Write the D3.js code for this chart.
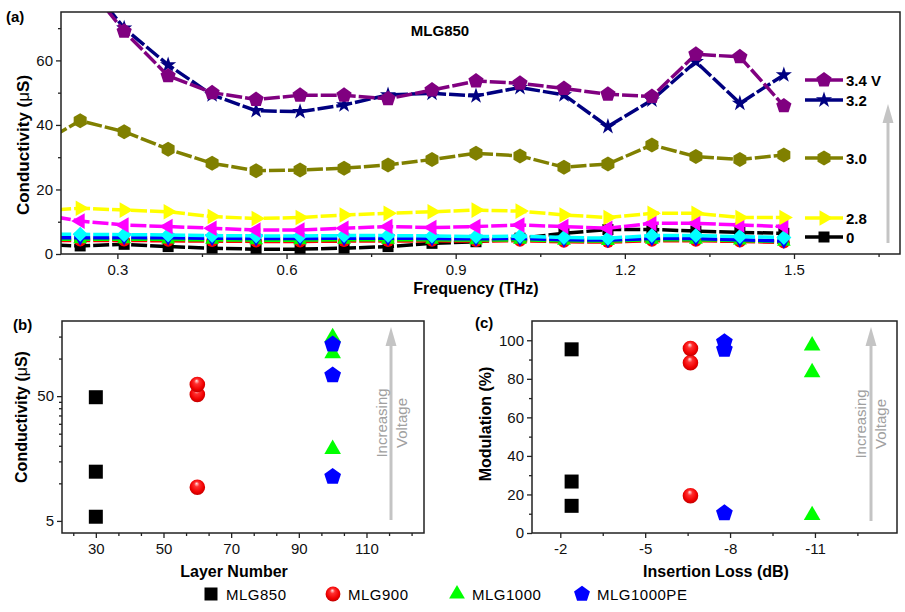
<!DOCTYPE html>
<html>
<head>
<meta charset="utf-8">
<script src="https://cdn.jsdelivr.net/npm/d3@7"></script>
<style>
body { margin: 0; background: #fff; }
svg { font-family: Arial, "Liberation Sans", sans-serif; }
</style>
</head>
<body>
<svg id="fig" width="905" height="612"></svg>
<script>
// ---- panel (a): conductivity vs frequency, MLG850, one series per gate voltage
var freq = [0.156, 0.234, 0.312, 0.39, 0.468, 0.546, 0.624, 0.702, 0.78, 0.858, 0.936, 1.014, 1.092, 1.17, 1.248, 1.326, 1.404, 1.482];
var sig0   = [2.9, 2.5, 3.0, 2.3, 1.8, 1.5, 1.5, 1.8, 2.3, 3.3, 3.8, 4.9, 6.4, 7.6, 7.6, 7.1, 6.7, 6.4];
var sigRed = [4.2, 4.2, 4.2, 4.1, 4.0, 3.9, 3.9, 4.0, 4.0, 4.1, 4.0, 4.1, 3.8, 3.7, 4.1, 4.1, 3.9, 3.6];
var sigGrn = [4.6, 4.6, 4.6, 4.5, 4.4, 4.3, 4.3, 4.4, 4.4, 4.4, 4.3, 4.4, 4.1, 4.0, 4.4, 4.4, 4.2, 3.8];
var sigBlu = [5.0, 5.0, 5.1, 5.0, 4.9, 4.8, 4.8, 4.9, 4.9, 4.8, 4.7, 4.8, 4.4, 4.3, 4.8, 4.8, 4.4, 4.0];
var sigCyn = [6.2, 6.1, 6.0, 5.9, 5.7, 5.6, 5.6, 5.7, 5.7, 5.6, 5.4, 5.5, 5.1, 4.9, 5.7, 5.7, 5.4, 5.1];
var sigMag = [12.5, 10.2, 9.0, 8.5, 8.0, 7.4, 7.4, 8.0, 8.5, 8.2, 8.5, 9.0, 8.5, 8.0, 9.5, 9.5, 9.0, 8.5];
var sig28  = [13.2, 14.2, 13.6, 13.1, 11.6, 11.0, 11.3, 12.1, 12.6, 13.1, 13.6, 13.3, 12.1, 11.3, 12.6, 12.6, 11.3, 11.3];
var sig30  = [33.5, 41.3, 37.9, 32.5, 28.1, 25.8, 26.0, 26.6, 27.6, 29.3, 31.2, 30.4, 26.9, 27.9, 33.8, 30.2, 29.3, 30.7];
var sig32  = [96, 87, 70, 58.6, 49.3, 44.4, 44.1, 46.2, 49.3, 49.8, 49.0, 51.6, 49.3, 39.5, 47.7, 59.6, 46.7, 55.5];
var sig34  = [95, 86, 69, 55.2, 50, 47.9, 49.2, 49.2, 48.1, 50.8, 53.6, 52.9, 51.3, 49.5, 48.8, 61.9, 61.1, 45.9];
var voltLabels = ['3.4 V', '3.2', '3.0', '2.8', '0'];
var freqTicks = [0.3, 0.6, 0.9, 1.2, 1.5];
var freqMinor = [0.45, 0.75, 1.05, 1.35, 1.65];
var sigTicks = [0, 20, 40, 60];
var sigMinor = [10, 30, 50, 70];

// ---- panels (b) and (c): samples
var samples = ['MLG850', 'MLG900', 'MLG1000', 'MLG1000PE'];
var layerNum = [30, 60, 100, 100];
var condMLG850 = [5.4, 12.4, 49];
var condMLG900 = [9.3, 51.5, 61.9];
var condMLG1000 = [18.8, 110, 148];
var condMLG1000PE = [11.3, 73.5, 130];
var insLoss = [-2.4, -6.6, -10.9, -7.8];
var modMLG850 = [14.1, 26.7, 95.3];
var modMLG900 = [19.3, 88.3, 95.7];
var modMLG1000 = [9.2, 83.3, 97.2];
var modMLG1000PE = [10.3, 95.2, 99.1];
var layerTicks = [30, 50, 70, 90, 110];
var layerMinor = [23.33, 36.67, 43.33, 56.67, 63.33, 76.67, 83.33, 96.67, 103.33, 116.67, 123.33];
var condTicks = [5, 50];
var condMinor = [10, 15, 20, 25, 30, 35, 40, 45, 100, 150];
var lossTicks = [-2, -5, -8, -11];
var lossMinor = [-3.5, -6.5, -9.5, -12.5];
var modTicks = [0, 20, 40, 60, 80, 100];
var modMinor = [10, 30, 50, 70, 90];

var svg = d3.select('#fig');
var defs = svg.append('defs');

// shaded red ball used for MLG900
var grad = defs.append('radialGradient').attr('id', 'ball')
  .attr('cx', '50%').attr('cy', '45%').attr('r', '55%').attr('fx', '45%').attr('fy', '25%');
grad.append('stop').attr('offset', '0%').attr('stop-color', '#ffe6e6');
grad.append('stop').attr('offset', '30%').attr('stop-color', '#ff3030');
grad.append('stop').attr('offset', '75%').attr('stop-color', '#f00000');
grad.append('stop').attr('offset', '100%').attr('stop-color', '#c00000');

function ngon(n) {
  return { draw: function(ctx, size) {
    var r = Math.sqrt(size);
    for (var i = 0; i < n; i++) {
      var a = -Math.PI / 2 + i * 2 * Math.PI / n;
      if (i === 0) ctx.moveTo(r * Math.cos(a), r * Math.sin(a));
      else ctx.lineTo(r * Math.cos(a), r * Math.sin(a));
    }
    ctx.closePath();
  }};
}
var tri = function(r) { return 3 * Math.sqrt(3) * r * r / 4; };
var shapes = {
  square:   { type: d3.symbolSquare, size: function(r) { return 4 * r * r; }, rot: 0 },
  circle:   { type: d3.symbolCircle, size: function(r) { return Math.PI * r * r; }, rot: 0 },
  triUp:    { type: d3.symbolTriangle, size: tri, rot: 0 },
  triDown:  { type: d3.symbolTriangle, size: tri, rot: 180 },
  triLeft:  { type: d3.symbolTriangle, size: tri, rot: -90 },
  triRight: { type: d3.symbolTriangle, size: tri, rot: 90 },
  diamond:  { type: d3.symbolSquare, size: function(r) { return 2 * r * r; }, rot: 45 },
  star:     { type: d3.symbolStar, size: function(r) { return r * r / 0.8908130915292852; }, rot: 0 },
  pentagon: { type: ngon(5), size: function(r) { return r * r; }, rot: 0 },
  hexagon:  { type: ngon(6), size: function(r) { return r * r; }, rot: 0 }
};
function marker(sel, shape, r, x, y, fill) {
  var s = shapes[shape];
  return sel.append('path')
    .attr('d', d3.symbol(s.type, s.size(r))())
    .attr('transform', 'translate(' + x + ',' + y + ') rotate(' + s.rot + ')')
    .attr('fill', fill);
}

function styleAxis(g) {
  g.attr('font-family', null).attr('font-size', 15);
  g.select('.domain').remove();
  g.selectAll('.tick line').attr('stroke', '#222').attr('stroke-width', 1.3);
  g.selectAll('.tick text').attr('fill', '#111');
}
function axes(g, x, y, xt, xm, yt, ym, fmtX, fmtY) {
  var r = x.range(), ry = y.range();
  g.append('g').attr('transform', 'translate(0,' + ry[0] + ')')
    .call(d3.axisBottom(x).tickValues(xt).tickSize(5).tickPadding(5).tickFormat(fmtX)).call(styleAxis);
  g.append('g').attr('transform', 'translate(0,' + ry[0] + ')')
    .call(d3.axisBottom(x).tickValues(xm).tickSize(3).tickFormat('')).call(styleAxis);
  g.append('g').attr('transform', 'translate(' + r[0] + ',0)')
    .call(d3.axisLeft(y).tickValues(yt).tickSize(5).tickPadding(3).tickFormat(fmtY)).call(styleAxis);
  g.append('g').attr('transform', 'translate(' + r[0] + ',0)')
    .call(d3.axisLeft(y).tickValues(ym).tickSize(3).tickFormat('')).call(styleAxis);
  g.append('rect').attr('x', r[0]).attr('y', ry[1])
    .attr('width', r[1] - r[0]).attr('height', ry[0] - ry[1])
    .attr('fill', 'none').attr('stroke', '#222').attr('stroke-width', 1.5);
}
function arrow(g, x, y0, y1) {
  g.append('line').attr('x1', x).attr('x2', x).attr('y1', y0).attr('y2', y1 + 16)
    .attr('stroke', '#c4c4c4').attr('stroke-width', 3);
  g.append('path').attr('d', 'M' + (x - 5.5) + ',' + (y1 + 19) + 'L' + x + ',' + y1 + 'L' + (x + 5.5) + ',' + (y1 + 19) + 'Z')
    .attr('fill', '#c4c4c4');
}
function label(g, txt, x, y, opt) {
  opt = opt || {};
  var t = g.append('text').attr('x', x).attr('y', y)
    .attr('font-size', opt.size || 16).attr('font-weight', opt.weight || 'bold')
    .attr('fill', opt.fill || '#000').attr('text-anchor', opt.anchor || 'middle');
  if (opt.rot) t.attr('transform', 'rotate(-90,' + x + ',' + y + ')');
  if (opt.mu) {
    t.append('tspan').text(txt + ' (');
    t.append('tspan').attr('font-weight', 'normal').text('\u03bc');
    t.append('tspan').text('S)');
  } else t.text(txt);
  return t;
}

// ================= panel (a)
var gA = svg.append('g');
var xA = d3.scaleLinear().domain([0.2, 1.688]).range([61, 900]);
var yA = d3.scaleLinear().domain([0, 75]).range([254, 12]);
defs.append('clipPath').attr('id', 'clipA').append('rect')
  .attr('x', 61).attr('y', 12).attr('width', 839).attr('height', 242);

var seriesA = [
  { vals: sig0,   color: '#000000', shape: 'square',   r: 5.5 },
  { vals: sigRed, color: '#ff0000', shape: 'circle',   r: 6 },
  { vals: sigGrn, color: '#00ff00', shape: 'triUp',    r: 8 },
  { vals: sigBlu, color: '#0000ff', shape: 'triDown',  r: 8 },
  { vals: sigCyn, color: '#00ffff', shape: 'diamond',  r: 7.5 },
  { vals: sigMag, color: '#ff00ff', shape: 'triLeft',  r: 9 },
  { vals: sig28,  color: '#ffff00', shape: 'triRight', r: 9 },
  { vals: sig30,  color: '#808000', shape: 'hexagon',  r: 7.5 },
  { vals: sig32,  color: '#000080', shape: 'star',     r: 8.5 },
  { vals: sig34,  color: '#800080', shape: 'pentagon', r: 8 }
];
var lineA = d3.line().x(function(d) { return xA(d[0]); }).y(function(d) { return yA(d[1]); });
var plotA = gA.append('g').attr('clip-path', 'url(#clipA)');
seriesA.forEach(function(s) {
  var pts = freq.map(function(f, i) { return [f, s.vals[i]]; });
  plotA.append('path').datum(pts).attr('d', lineA).attr('fill', 'none')
    .attr('stroke', s.color).attr('stroke-width', 3.5).attr('stroke-dasharray', '16,3');
  pts.forEach(function(p) { marker(plotA, s.shape, s.r, xA(p[0]), yA(p[1]), s.color); });
});
axes(gA, xA, yA, freqTicks, freqMinor, sigTicks, sigMinor, d3.format('.1f'), function(d) { return d; });

// voltage legend
var legA = [
  { s: seriesA[9], y: 80 }, { s: seriesA[8], y: 100 }, { s: seriesA[7], y: 158 },
  { s: seriesA[6], y: 218 }, { s: seriesA[0], y: 237 }
];
legA.forEach(function(e, i) {
  gA.append('line').attr('x1', 805).attr('x2', 843).attr('y1', e.y).attr('y2', e.y)
    .attr('stroke', e.s.color).attr('stroke-width', 3.5);
  marker(gA, e.s.shape, e.s.r, 824, e.y, e.s.color);
  label(gA, voltLabels[i], 846, e.y + 5.5, { size: 15, anchor: 'start' });
});
arrow(gA, 888, 243, 104);
label(gA, 'MLG850', 440, 36, { size: 15 });
label(gA, '(a)', 6, 22, { size: 15, anchor: 'start' });
label(gA, 'Conductivity', 29, 145, { rot: true, mu: true, size: 17 });
label(gA, 'Frequency (THz)', 476, 294);

// ================= panels (b) and (c) sample styles
var sampleStyle = [
  { shape: 'square',   fill: '#000000', r: 7 },
  { shape: 'circle',   fill: 'url(#ball)', r: 7.8 },
  { shape: 'triUp',    fill: '#00ff00', r: 9.6 },
  { shape: 'pentagon', fill: '#0000ff', r: 8.8 }
];

// panel (b)
var gB = svg.append('g');
var xB = d3.scaleLinear().domain([20, 127]).range([62, 424]);
var yB = d3.scaleLog().domain([4, 200]).range([533, 321]);
axes(gB, xB, yB, layerTicks, layerMinor, condTicks, condMinor, function(d) { return d; }, function(d) { return d; });
[condMLG850, condMLG900, condMLG1000, condMLG1000PE].forEach(function(vals, k) {
  vals.forEach(function(v) {
    marker(gB, sampleStyle[k].shape, sampleStyle[k].r, xB(layerNum[k]), yB(v), sampleStyle[k].fill);
  });
});
arrow(gB, 391, 520, 327);
label(gB, 'Increasing', 387, 423, { size: 15, weight: 'normal', fill: '#a0a0a0', rot: true });
label(gB, 'Voltage', 407, 423, { size: 15, weight: 'normal', fill: '#a0a0a0', rot: true });
label(gB, '(b)', 13, 330, { size: 15, anchor: 'start' });
label(gB, 'Conductivity', 27, 417, { rot: true, mu: true });
label(gB, 'Layer Number', 234, 577);

// panel (c)
var gC = svg.append('g');
var xC = d3.scaleLinear().domain([-1, -13.9]).range([532, 897]);
var yC = d3.scaleLinear().domain([0, 110]).range([533, 321]);
axes(gC, xC, yC, lossTicks, lossMinor, modTicks, modMinor, function(d) { return String(d); }, function(d) { return d; });
[modMLG850, modMLG900, modMLG1000, modMLG1000PE].forEach(function(vals, k) {
  vals.forEach(function(v) {
    marker(gC, sampleStyle[k].shape, sampleStyle[k].r, xC(insLoss[k]), yC(v), sampleStyle[k].fill);
  });
});
arrow(gC, 871, 521, 327);
label(gC, 'Increasing', 866, 424, { size: 15, weight: 'normal', fill: '#a0a0a0', rot: true });
label(gC, 'Voltage', 886, 424, { size: 15, weight: 'normal', fill: '#a0a0a0', rot: true });
label(gC, '(c)', 475, 328, { size: 15, anchor: 'start' });
label(gC, 'Modulation (%)', 491, 424, { rot: true });
label(gC, 'Insertion Loss (dB)', 716, 577);

// sample legend
var legX = [211, 333, 457, 582];
var gL = svg.append('g');
samples.forEach(function(name, k) {
  var st = sampleStyle[k];
  marker(gL, st.shape, st.shape === 'square' ? 6.5 : st.r * 0.95, legX[k], 594, st.fill);
  gL.append('text').attr('x', legX[k] + 15).attr('y', 599.5).attr('font-size', 15)
    .attr('letter-spacing', 0.5).text(name);
});
</script>
</body>
</html>
